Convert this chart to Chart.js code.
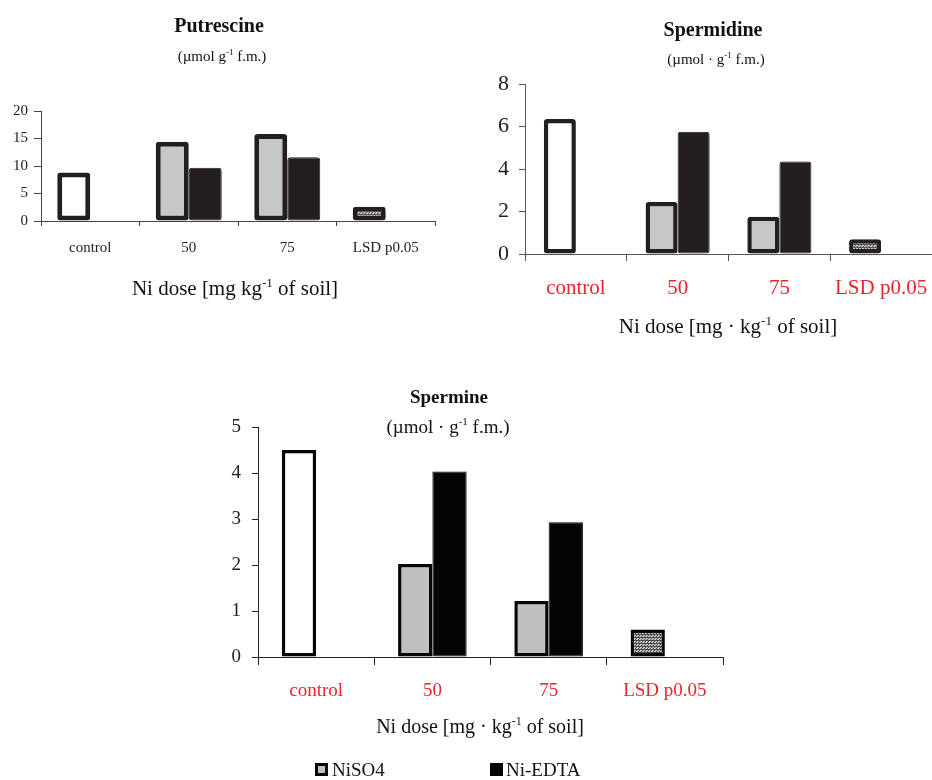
<!DOCTYPE html>
<html>
<head>
<meta charset="utf-8">
<script src="https://cdn.jsdelivr.net/npm/chart.js@4.4.1/dist/chart.umd.min.js"></script>
<style>
  html, body { margin: 0; padding: 0; background: #fff; }
  #wrap { position: relative; width: 932px; height: 780px; overflow: hidden; font-family: "Liberation Serif", serif; }
  #wrap canvas { position: absolute; left: 0; top: 0; }
  .key { position: absolute; top: 760px; font-size: 19px; line-height: 19px; color: #111; white-space: nowrap; }
  .box { position: absolute; top: 763px; width: 13px; height: 13px; box-sizing: border-box; }
</style>
</head>
<body>
<div id="wrap">
  <canvas id="put" width="932" height="780"></canvas>
  <canvas id="spd" width="932" height="780"></canvas>
  <canvas id="spm" width="932" height="780"></canvas>
  <div class="box" style="left:315px; background:#bfbfbf; border:3px solid #050505;"></div>
  <div class="key" style="left:332px;">NiSO4</div>
  <div class="box" style="left:490px; background:#050505;"></div>
  <div class="key" style="left:506px;">Ni-EDTA</div>
</div>
<script>
// categories shared by all three panels
const categories = ['control', '50', '75', 'LSD p0.05'];

// Putrescine (µmol g-1 f.m.)
const putNiSO4 = [8.8, 14.4, 15.8, 2.6];
const putNiEDTA = [null, 9.7, 11.6, null];
const putTicks = [0, 5, 10, 15, 20];

// Spermidine
const spdNiSO4 = [6.35, 2.45, 1.75, 0.7];
const spdNiEDTA = [null, 5.75, 4.35, null];
const spdTicks = [0, 2, 4, 6, 8];

// Spermine
const spmNiSO4 = [4.5, 2.02, 1.22, 0.6];
const spmNiEDTA = [null, 4.03, 2.93, null];
const spmTicks = [0, 1, 2, 3, 4, 5];

const FONT = '"Liberation Serif", "Times New Roman", serif';

// dotted fill used for the LSD bar
function makePattern(bg, dot) {
    const c = document.createElement('canvas');
    c.width = 3;
    c.height = 3;
    const g = c.getContext('2d');
    g.fillStyle = bg;
    g.fillRect(0, 0, 3, 3);
    g.fillStyle = dot;
    g.fillRect(0, 0, 2, 1);
    g.fillRect(1, 2, 2, 1);
    return g.createPattern(c, 'repeat');
}

// draws titles and axis titles, with superscripts
const richText = {
    id: 'richText',
    afterDraw(chart, args, opts) {
        const ctx = chart.ctx;
        (opts.items || []).forEach(it => {
            ctx.save();
            ctx.fillStyle = it.color || '#111';
            ctx.textBaseline = 'alphabetic';
            ctx.textAlign = 'left';
            const w = (it.bold ? 'bold ' : '');
            const fontFor = sup => w + (sup ? Math.round(it.size * 0.6) : it.size) + 'px ' + FONT;
            let total = 0;
            it.parts.forEach(p => {
                ctx.font = fontFor(p[1]);
                total += ctx.measureText(p[0]).width;
            });
            let x = it.x - total / 2;
            it.parts.forEach(p => {
                ctx.font = fontFor(p[1]);
                ctx.fillText(p[0], x, it.y - (p[1] ? it.size * 0.4 : 0));
                x += ctx.measureText(p[0]).width;
            });
            ctx.restore();
        });
    }
};

function makeChart(id, c) {
    const W = 40, H = 70;
    const ticks = c.ticks;
    return new Chart(document.getElementById(id), {
        type: 'bar',
        data: {
            labels: categories,
            datasets: [{
                label: 'NiSO4',
                data: c.a,
                backgroundColor: ['#ffffff', c.gray, c.gray, c.pattern],
                borderColor: c.dark,
                borderWidth: c.border,
                borderSkipped: false,
                borderRadius: c.radius,
                categoryPercentage: c.cat,
                barPercentage: 1
            }, {
                label: 'Ni-EDTA',
                data: c.b,
                backgroundColor: c.dark,
                borderColor: c.dark,
                borderWidth: 1,
                borderSkipped: false,
                borderRadius: c.radius,
                categoryPercentage: c.cat,
                barPercentage: 1
            }]
        },
        options: {
            responsive: false,
            animation: false,
            layout: {
                padding: {
                    left: c.area.left - W,
                    top: c.area.top,
                    right: 932 - c.area.right,
                    bottom: 780 - c.area.bottom - H
                }
            },
            plugins: {
                legend: { display: false },
                tooltip: { enabled: false },
                richText: { items: c.texts }
            },
            scales: {
                x: {
                    // keep the plot edges where the layout puts them
                    afterFit: s => { s.height = H; s.paddingLeft = 0; s.paddingRight = 0; },
                    grid: { drawOnChartArea: false, drawTicks: true, tickLength: c.xTick, color: c.axis, offset: true },
                    border: { display: true, color: c.axis, width: 1 },
                    ticks: { color: c.xColor, padding: c.xPad, font: { family: FONT, size: c.xSize } }
                },
                y: {
                    min: ticks[0],
                    max: ticks[ticks.length - 1],
                    afterFit: s => { s.width = W; },
                    afterBuildTicks: s => { s.ticks = ticks.map(v => ({ value: v })); },
                    grid: { drawOnChartArea: false, drawTicks: true, tickLength: c.yTick, color: c.axis },
                    border: { display: true, color: c.axis, width: 1 },
                    ticks: { color: '#222', padding: c.yPad, font: { family: FONT, size: c.ySize } }
                }
            }
        },
        plugins: [richText]
    });
}

makeChart('put', {
    a: putNiSO4, b: putNiEDTA, ticks: putTicks,
    area: { left: 41, top: 111, right: 435, bottom: 221 },
    gray: '#c6c7c8', dark: '#231f20', pattern: makePattern('#555', '#c8c8c8'),
    border: 5, radius: 3, cat: 0.67,
    axis: '#444', xTick: 5, xPad: 13, xSize: 15, xColor: '#222',
    yTick: 7, yPad: 6, ySize: 15,
    texts: [
        { x: 219, y: 32, size: 20, bold: true, parts: [['Putrescine', 0]] },
        { x: 222, y: 61, size: 15, parts: [['(µmol g', 0], ['-1', 1], [' f.m.)', 0]] },
        { x: 235, y: 295, size: 21, parts: [['Ni dose [mg kg', 0], ['-1', 1], [' of soil]', 0]] }
    ]
});

makeChart('spd', {
    a: spdNiSO4, b: spdNiEDTA, ticks: spdTicks,
    area: { left: 525, top: 84, right: 932, bottom: 254 },
    gray: '#c6c7c8', dark: '#231f20', pattern: makePattern('#555', '#c8c8c8'),
    border: 4.5, radius: 3, cat: 0.63,
    axis: '#555', xTick: 7, xPad: 15, xSize: 21, xColor: '#e8262b',
    yTick: 6, yPad: 10, ySize: 22,
    texts: [
        { x: 713, y: 36, size: 20, bold: true, parts: [['Spermidine', 0]] },
        { x: 716, y: 64, size: 15, parts: [['(µmol · g', 0], ['-1', 1], [' f.m.)', 0]] },
        { x: 728, y: 333, size: 21, parts: [['Ni dose [mg · kg', 0], ['-1', 1], [' of soil]', 0]] }
    ]
});

makeChart('spm', {
    a: spmNiSO4, b: spmNiEDTA, ticks: spmTicks,
    area: { left: 258, top: 427, right: 723, bottom: 657 },
    gray: '#bfbfbf', dark: '#050505', pattern: makePattern('#4a4a4a', '#c8c8c8'),
    border: 3.5, radius: 0, cat: 0.59,
    axis: '#222', xTick: 8, xPad: 15, xSize: 19, xColor: '#e8262b',
    yTick: 6, yPad: 11, ySize: 19,
    texts: [
        { x: 449, y: 403, size: 19, bold: true, parts: [['Spermine', 0]] },
        { x: 448, y: 433, size: 19, parts: [['(µmol · g', 0], ['-1', 1], [' f.m.)', 0]] },
        { x: 480, y: 733, size: 20, parts: [['Ni dose [mg · kg', 0], ['-1', 1], [' of soil]', 0]] }
    ]
});
</script>
</body>
</html>
